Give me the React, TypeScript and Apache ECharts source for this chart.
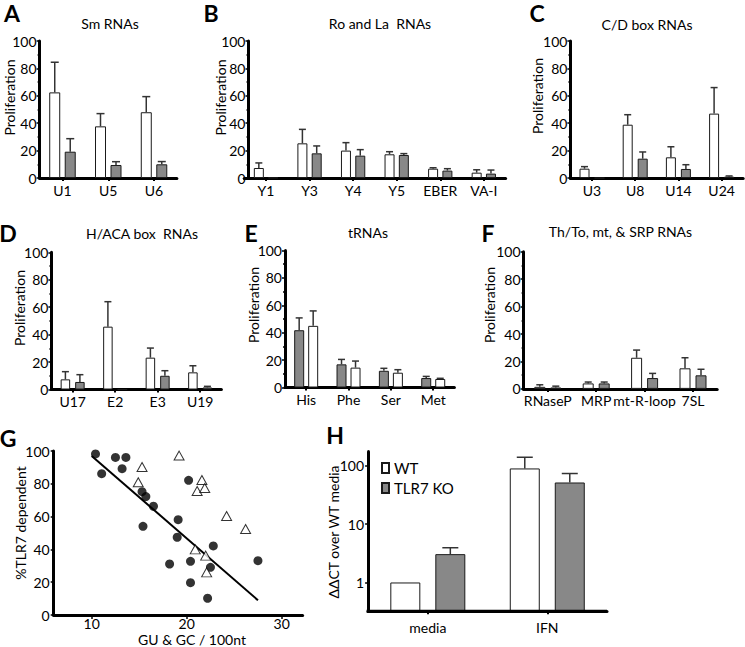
import React, { useEffect, useRef } from 'react';
import * as echarts from 'echarts';

// ---------- DATA ----------
// A: Sm RNAs
const smCategories = ['U1', 'U5', 'U6'];
const smWT = [62.5, 37.7, 48];
const smWTErr = [22, 9.3, 11.4];
const smKO = [19.2, 9.5, 10];
const smKOErr = [9.5, 2.4, 2];

// B: Ro and La RNAs
const roCategories = ['Y1', 'Y3', 'Y4', 'Y5', 'EBER', 'VA-I'];
const roWT = [7.3, 25.3, 20, 17.3, 6.8, 3.9];
const roWTErr = [3.7, 10.2, 5.8, 1.9, 0.7, 2.1];
const roKO = [0.3, 18, 16.3, 16.8, 5.4, 3.2];
const roKOErr = [0, 5.4, 4.4, 1, 1.4, 2.6];

// C: C/D box RNAs
const cdCategories = ['U3', 'U8', 'U14', 'U24'];
const cdWT = [6.8, 38.9, 15.1, 47];
const cdWTErr = [1.5, 7.3, 7.7, 19];
const cdKO = [0, 14.1, 6.6, 1];
const cdKOErr = [0, 4.9, 3.1, 0.5];

// D: H/ACA box RNAs
const hacaCategories = ['U17', 'E2', 'E3', 'U19'];
const hacaWT = [7.4, 45.8, 23.2, 12.5];
const hacaWTErr = [5.6, 18.2, 7, 4.8];
const hacaKO = [5.5, 0, 10, 1.5];
const hacaKOErr = [5.3, 0, 3.7, 0.8];

// E: tRNAs (grey bar first)
const tCategories = ['His', 'Phe', 'Ser', 'Met'];
const tGrey = [41.8, 16.9, 12.2, 6.9];
const tGreyErr = [9, 3.6, 1.8, 1.2];
const tWhite = [45, 14.5, 10.8, 6.2];
const tWhiteErr = [10.9, 4.8, 2.2, 0.5];

// F: Th/To, mt, & SRP RNAs
const fCategories = ['RNaseP', 'MRP', 'mt-R-loop', '7SL'];
const fWT = [1.5, 4, 22.7, 15];
const fWTErr = [1.5, 1, 5.6, 7.7];
const fKO = [1, 4, 7.9, 9.9];
const fKOErr = [1, 1, 3.4, 4.4];

// G: scatter
const gCircles = [
  [10.4, 98.2], [11.05, 86.2], [12.5, 96.1], [13.6, 96.1], [13.2, 89.2],
  [15.3, 75.2], [15.7, 72.2], [16.5, 66.3], [15.4, 54.1], [19.1, 58.1],
  [19.0, 47.4], [20.2, 82.1], [18.2, 31.1], [20.4, 32.7], [20.4, 19.7],
  [22.8, 42.1], [22.5, 29.1], [22.2, 10.2], [27.5, 33.1],
];
const gTriangles = [
  [19.2, 97.2], [15.3, 90.2], [14.9, 80.9], [21.6, 82.3], [21.1, 75.6],
  [21.9, 77.4], [24.2, 60.4], [26.2, 52.4], [20.9, 40.0], [22.0, 36.2], [22.1, 26.0],
];
const gFit = [[10, 97], [27.5, 9]];

// H: log bars
const hCategories = ['media', 'IFN'];
const hWT = [1, 90];
const hWTErr = [0, 50];
const hKO = [3.06, 51.7];
const hKOErr = [0.88, 22];
const hAxisMin = 0.32;
const hAxisMax = 175;

// ---------- STYLE ----------
const FONT = 'Lato, "Open Sans", sans-serif';
const WHITE = '#ffffff';
const GREY = '#888888';
const INK = '#000000';

type BarSet = { name: string; values: number[]; errors: number[]; color: string };
type Panel = {
  cats: string[]; sets: BarSet[];
  left: number; top: number; width: number; height: number;
  barW: number; gap: number; cap: number; yOff?: number; log?: boolean;
};

const panels: Panel[] = [
  { cats: smCategories, sets: [
      { name: 'A-WT', values: smWT, errors: smWTErr, color: WHITE },
      { name: 'A-KO', values: smKO, errors: smKOErr, color: GREY }],
    left: 39.6, top: 41, width: 137.3, height: 137, barW: 11, gap: 4.5, cap: 4 },
  { cats: roCategories, sets: [
      { name: 'B-WT', values: roWT, errors: roWTErr, color: WHITE },
      { name: 'B-KO', values: roKO, errors: roKOErr, color: GREY }],
    left: 244.2, top: 41, width: 261.4, height: 137, barW: 10, gap: 4.3, cap: 3.5, yOff: -4.3 },
  { cats: cdCategories, sets: [
      { name: 'C-WT', values: cdWT, errors: cdWTErr, color: WHITE },
      { name: 'C-KO', values: cdKO, errors: cdKOErr, color: GREY }],
    left: 570.4, top: 41, width: 172.8, height: 137, barW: 10, gap: 5, cap: 3.5 },
  { cats: hacaCategories, sets: [
      { name: 'D-WT', values: hacaWT, errors: hacaWTErr, color: WHITE },
      { name: 'D-KO', values: hacaKO, errors: hacaKOErr, color: GREY }],
    left: 51.4, top: 252.3, width: 170, height: 137.2, barW: 9.5, gap: 5, cap: 3.5 },
  { cats: tCategories, sets: [
      { name: 'E-G', values: tGrey, errors: tGreyErr, color: GREY },
      { name: 'E-W', values: tWhite, errors: tWhiteErr, color: WHITE }],
    left: 285, top: 250.5, width: 169.4, height: 137, barW: 10, gap: 4, cap: 3.5 },
  { cats: fCategories, sets: [
      { name: 'F-WT', values: fWT, errors: fWTErr, color: WHITE },
      { name: 'F-KO', values: fKO, errors: fKOErr, color: GREY }],
    left: 523.6, top: 251.7, width: 193.6, height: 137.2, barW: 11, gap: 5, cap: 3.5 },
  { cats: hCategories, sets: [
      { name: 'WT', values: hWT, errors: hWTErr, color: WHITE },
      { name: 'TLR7 KO', values: hKO, errors: hKOErr, color: GREY }],
    left: 368.1, top: 451.6, width: 238.9, height: 159.75, barW: 30, gap: 15, cap: 8, log: true },
];

const labelStyle = { fontFamily: FONT, fontSize: 14, color: INK };

function txt(text: string, x: number, y: number, size: number, bold = false, rot = 0) {
  return {
    type: 'text', x, y, rotation: rot, silent: true,
    style: { text, fontFamily: FONT, fontSize: size, fontWeight: bold ? 'bold' : 'normal', fill: INK, align: 'center', verticalAlign: 'middle' },
  };
}

function buildOption() {
  const grid: any[] = [];
  const xAxis: any[] = [];
  const yAxis: any[] = [];
  const series: any[] = [];

  panels.forEach((p, i) => {
    grid.push({ left: p.left, top: p.top, width: p.width, height: p.height });
    xAxis.push({
      type: 'category', gridIndex: i, data: p.cats, position: 'bottom',
      axisLine: { show: true, onZero: false, lineStyle: { color: INK, width: 3 } },
      axisTick: { show: true, alignWithLabel: true, length: 3, lineStyle: { color: INK, width: 2 } },
      axisLabel: { ...labelStyle, margin: p.log ? 9 : 5, interval: 0 },
      splitLine: { show: false },
    });
    if (p.log) {
      yAxis.push({
        type: 'log', logBase: 10, gridIndex: i, min: hAxisMin, max: hAxisMax, startValue: hAxisMin,
        axisLine: { show: true, lineStyle: { color: INK, width: 3 } },
        axisTick: { show: true, length: 3, lineStyle: { color: INK, width: 1.5 } },
        axisLabel: { ...labelStyle, margin: 4, showMinLabel: false, showMaxLabel: false },
        splitLine: { show: false },
      });
    } else {
      yAxis.push({
        type: 'value', gridIndex: i, min: 0, max: 100, interval: 20, offset: p.yOff || 0,
        axisLine: { show: true, lineStyle: { color: INK, width: 3 } },
        axisTick: { show: true, length: 3, lineStyle: { color: INK, width: 1.5 } },
        minorTick: { show: true, splitNumber: 2, length: 2, lineStyle: { color: INK, width: 1.5 } },
        axisLabel: { ...labelStyle, margin: 3 },
        splitLine: { show: false },
      });
    }
    const half = (p.barW + p.gap) / 2;
    const offs = [-half, half];
    p.sets.forEach((s) => {
      series.push({
        type: 'bar', name: s.name, xAxisIndex: i, yAxisIndex: i, data: s.values,
        barWidth: p.barW, barGap: `${(p.gap / p.barW) * 100}%`,
        itemStyle: { color: s.color, borderColor: '#1a1a1a', borderWidth: 1 },
        silent: true, z: 2,
      });
    });
    const errData: number[][] = [];
    p.sets.forEach((s, si) => s.values.forEach((v, ci) => {
      if (s.errors[ci] > 0) errData.push([ci, si, v, v + s.errors[ci]]);
    }));
    const cap = p.cap;
    series.push({
      type: 'custom', xAxisIndex: i, yAxisIndex: i, data: errData, z: 3, silent: true,
      encode: { x: 0, y: [2, 3] },
      renderItem: (params: any, api: any) => {
        const ci = api.value(0);
        const si = api.value(1);
        const b = api.coord([ci, api.value(2)]);
        const t = api.coord([ci, api.value(3)]);
        const x = b[0] + offs[si];
        const st = { stroke: '#333', lineWidth: 1.5 };
        return {
          type: 'group', children: [
            { type: 'line', shape: { x1: x, y1: b[1], x2: x, y2: t[1] }, style: st },
            { type: 'line', shape: { x1: x - cap, y1: t[1], x2: x + cap, y2: t[1] }, style: st },
          ],
        };
      },
    });
  });

  // G scatter panel
  const gi = panels.length;
  grid.push({ left: 53.7, top: 451, width: 248.9, height: 164 });
  xAxis.push({
    type: 'value', gridIndex: gi, min: 6, max: 32.2, splitNumber: 3,
    axisLine: { show: true, onZero: false, lineStyle: { color: INK, width: 3 } },
    axisTick: { show: true, length: 4, lineStyle: { color: INK, width: 1.5 } },
    axisLabel: { ...labelStyle, margin: 1, lineHeight: 14, showMinLabel: false, showMaxLabel: false },
    splitLine: { show: false },
  });
  yAxis.push({
    type: 'value', gridIndex: gi, min: 0, max: 100, interval: 20,
    axisLine: { show: true, lineStyle: { color: INK, width: 3 } },
    axisTick: { show: true, length: 3, lineStyle: { color: INK, width: 1.5 } },
    axisLabel: { ...labelStyle, margin: 4 },
    splitLine: { show: false },
  });
  series.push({
    type: 'line', name: 'fit', xAxisIndex: gi, yAxisIndex: gi, data: gFit,
    showSymbol: false, symbol: 'none', lineStyle: { color: INK, width: 2 }, z: 1, silent: true,
  });
  series.push({
    type: 'scatter', name: 'circles', xAxisIndex: gi, yAxisIndex: gi, data: gCircles,
    symbol: 'circle', symbolSize: 9, itemStyle: { color: INK }, z: 3, silent: true,
  });
  series.push({
    type: 'scatter', name: 'triangles', xAxisIndex: gi, yAxisIndex: gi, data: gTriangles,
    symbol: 'triangle', symbolSize: [10, 9], itemStyle: { color: WHITE, borderColor: INK, borderWidth: 1 }, z: 3, silent: true,
  });

  // H baseline along the bottom of its grid
  const hp = panels[6];
  const hBottom = hp.top + hp.height;
  const hBase = {
    type: 'rect', silent: true, z: 100,
    shape: { x: hp.left - 1.5, y: hBottom - 1.5, width: hp.width + 1.5, height: 3 },
    style: { fill: INK },
  };

  const graphic = [
    hBase,
    txt('A', 12, 13, 23, true), txt('B', 211, 13, 23, true), txt('C', 537, 13, 23, true),
    txt('D', 8, 233, 23, true), txt('E', 251, 233, 23, true), txt('F', 488, 233, 23, true),
    txt('G', 8, 438, 23, true), txt('H', 335, 435, 23, true),
    txt('Sm RNAs', 110, 23, 14), txt('Ro and La  RNAs', 380, 23, 14), txt('C/D box RNAs', 647, 24, 14),
    txt('H/ACA box  RNAs', 142, 233, 14), txt('tRNAs', 368, 232, 14), txt('Th/To, mt, & SRP RNAs', 620.5, 231, 14),
    txt('Proliferation', 9, 97.5, 14, false, Math.PI / 2),
    txt('Proliferation', 220, 97.5, 14, false, Math.PI / 2),
    txt('Proliferation', 537.5, 96, 14, false, Math.PI / 2),
    txt('Proliferation', 19, 308, 14, false, Math.PI / 2),
    txt('Proliferation', 253, 305, 14, false, Math.PI / 2),
    txt('Proliferation', 489, 305, 14, false, Math.PI / 2),
    txt('%TLR7 dependent', 20, 523, 14, false, Math.PI / 2),
    txt('GU & GC / 100nt', 192, 639.5, 14),
    txt('ΔΔCT over WT media', 333, 532, 14, false, Math.PI / 2),
  ];

  return {
    animation: false,
    backgroundColor: '#ffffff',
    textStyle: { fontFamily: FONT },
    grid, xAxis, yAxis, series,
    graphic: { elements: graphic },
    legend: {
      data: ['WT', 'TLR7 KO'], orient: 'vertical', left: 381, top: 460.5,
      itemWidth: 7, itemHeight: 10, itemGap: 5, icon: 'rect', padding: 0, selectedMode: false,
      textStyle: { fontFamily: FONT, fontSize: 15, color: INK, lineHeight: 15 },
    },
  };
}

export default function App() {
  const ref = useRef<HTMLDivElement>(null);
  useEffect(() => {
    if (!ref.current) return;
    const chart = echarts.init(ref.current, null, { renderer: 'svg' });
    chart.setOption(buildOption() as any);
    return () => chart.dispose();
  }, []);
  return <div ref={ref} style={{ position: 'fixed', left: 0, top: 0, width: 745, height: 647, background: '#fff' }} />;
}
